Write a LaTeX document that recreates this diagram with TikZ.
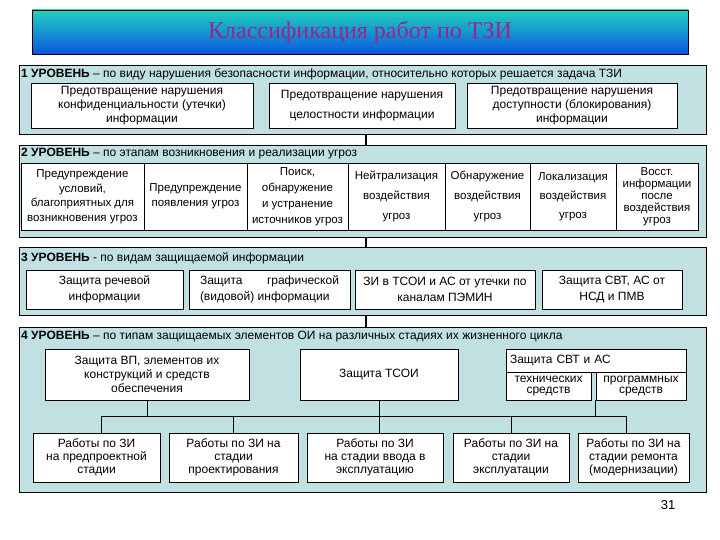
\documentclass[tikz,border=0pt]{standalone}
\usepackage{fontspec}
\setmainfont{Liberation Sans}
\newfontfamily\ttlfont{Liberation Serif}
\definecolor{lvlc}{RGB}{192,224,226}
\definecolor{ttop}{RGB}{32,210,190}
\definecolor{tbot}{RGB}{12,86,224}
\definecolor{ttxt}{RGB}{150,40,140}
\newcommand\fsz[2]{\fontsize{#1}{#2}\selectfont}
% box by corners: name, x1, y1, x2, y2, style, text
\newcommand\bx[7]{\node[#6, minimum width={#4-#2}, minimum height={#5-#3}] (#1) at ({(#2+#4)/2},{(#3+#5)/2}) {#7};}
\tikzset{
  lvl/.style={draw=black, fill=lvlc, line width=0.9pt, inner sep=0pt},
  wb/.style={draw=black, fill=white, line width=0.8pt, align=center, inner sep=1pt, font=\fsz{12}{14}},
  lab/.style={anchor=west, inner sep=0pt, font=\fsz{12}{14}},
  conn/.style={line width=2pt},
  tree/.style={line width=0.8pt},
  titlebox/.style={draw=black, line width=0.9pt, top color=ttop, bottom color=tbot, text=ttxt, font=\ttlfont\fsz{24}{28}},
}
\begin{document}
\begin{tikzpicture}[x=1pt, y=-1pt]
\useasboundingbox (0,0) rectangle (720,540);
% title
\bx{title}{32}{10}{688}{54}{titlebox}{Классификация работ по ТЗИ}
% level frames
\bx{L1}{19}{65}{706}{134}{lvl}{}
\bx{L2}{19}{145}{706}{237}{lvl}{}
\bx{L3}{19}{247}{706}{315}{lvl}{}
\bx{L4}{19}{327}{706}{492}{lvl}{}
% level labels
\node[lab] (l1lab) at (21,74) {\textbf{1 УРОВЕНЬ} – по виду нарушения безопасности информации, относительно которых решается задача ТЗИ};
\node[lab] (l2lab) at (21,154) {\textbf{2 УРОВЕНЬ} – по этапам возникновения и реализации угроз};
\node[lab] (l3lab) at (21,258) {\textbf{3 УРОВЕНЬ} - по видам защищаемой информации};
\node[lab] (l4lab) at (21,337) {\textbf{4 УРОВЕНЬ} – по типам защищаемых элементов ОИ на различных стадиях их жизненного цикла};
% level 1
\bx{a1}{31}{83}{253}{128}{wb}{Предотвращение нарушения\\конфиденциальности (утечки)\\информации}
\bx{a2}{269}{83}{455}{128}{wb, font=\fsz{12}{20}}{Предотвращение нарушения\\целостности информации}
\bx{a3}{467}{83}{677}{128}{wb}{Предотвращение нарушения\\доступности (блокирования)\\информации}
% level 2
\bx{c1}{21}{163}{144}{230}{wb, inner sep=0pt, font=\fsz{11.5}{14.5}}{Предупреждение\\условий,\\благоприятных для\\возникновения угроз}
\bx{c2}{144}{163}{247}{230}{wb, inner sep=0pt, font=\fsz{11.5}{15}}{Предупреждение\\появления угроз}
\bx{c3}{247}{163}{348}{230}{wb, inner sep=0pt, font=\fsz{11.5}{16}}{Поиск,\\обнаружение\\и устранение\\источников угроз}
\bx{c4}{348}{163}{445}{230}{wb, inner sep=0pt, font=\fsz{11.5}{20}}{Нейтрализация\\воздействия\\угроз}
\bx{c5}{445}{163}{530}{230}{wb, inner sep=0pt, font=\fsz{11.5}{20}}{Обнаружение\\воздействия\\угроз}
\bx{c6}{530}{163}{616}{230}{wb, inner sep=0pt, font=\fsz{11.5}{19}}{Локализация\\воздействия\\угроз}
\bx{c7}{616}{163}{698}{230}{wb, inner sep=0pt, font=\fsz{11.5}{12}}{Восст.\\информации\\после\\воздействия\\угроз}
% level 3
\bx{b1}{26}{270}{183}{309}{wb, font=\fsz{12}{16}}{Защита речевой\\информации}
\bx{b2}{189}{270}{350}{309}{wb, font=\fsz{12}{16}}{\parbox{139pt}{\fsz{12}{16}Защита\hfill графической\\(видовой) информации}}
\bx{b3}{355}{270}{535}{309}{wb, font=\fsz{12}{16}}{ЗИ в ТСОИ и АС от утечки по\\каналам ПЭМИН}
\bx{b4}{542}{270}{682}{309}{wb, font=\fsz{12}{16}}{Защита СВТ, АС от\\НСД и ПМВ}
% level 4
\bx{v1}{45}{349}{249}{400}{wb}{Защита ВП, элементов их\\конструкций и средств\\обеспечения}
\bx{v2}{300}{349}{458}{400}{wb}{Защита ТСОИ}
\node[wb, align=left, inner xsep=4pt, inner ysep=0pt, text width=172pt, minimum height=23pt] (v3) at (596,360.5) {Защита СВТ и АС};
\bx{v3a}{506}{372}{591}{400}{wb, inner sep=0pt, font=\fsz{12}{11.5}}{технических\\средств}
\bx{v3b}{596}{372}{686}{400}{wb, inner sep=0pt, font=\fsz{12}{11.5}}{программных\\средств}
% bottom row
\bx{w1}{33}{433}{160}{482}{wb, font=\fsz{12}{13}}{Работы по ЗИ\\на предпроектной\\стадии}
\bx{w2}{169}{433}{298}{482}{wb, font=\fsz{12}{13}}{Работы по ЗИ на\\стадии\\проектирования}
\bx{w3}{307}{433}{443}{482}{wb, font=\fsz{12}{13}}{Работы по ЗИ\\на стадии ввода в\\эксплуатацию}
\bx{w4}{453}{433}{569}{482}{wb, font=\fsz{12}{13}}{Работы по ЗИ на\\стадии\\эксплуатации}
\bx{w5}{578}{433}{689}{482}{wb, font=\fsz{12}{13}}{Работы по ЗИ на\\стадии ремонта\\(модернизации)}
% level connectors
\coordinate (cx) at (366,0);
\draw[conn] (L1.south -| cx) -- (L2.north -| cx);
\draw[conn] (L2.south -| cx) -- (L3.north -| cx);
\draw[conn] (L3.south -| cx) -- (L4.north -| cx);
% tree
\coordinate (bus) at (0,416);
\coordinate (d1) at (101,416);
\coordinate (d5) at (626,416);
\draw[tree] (v1.south) -- (v1.south |- bus);
\draw[tree] (v2.south) -- (v2.south |- w3.north);
\draw[tree] (v3b.south west) -- (v3b.south west |- bus);
\draw[tree] (d1) -- (d5);
\draw[tree] (d1) -- (d1 |- w1.north);
\draw[tree] (w2.north |- bus) -- (w2.north);
\draw[tree] (w4.north |- bus) -- (w4.north);
\draw[tree] (d5) -- (d5 |- w5.north);
% page number
\node[font=\fsz{13}{15}, inner sep=0pt] (pg) at (668,505) {31};
\end{tikzpicture}
\end{document}
